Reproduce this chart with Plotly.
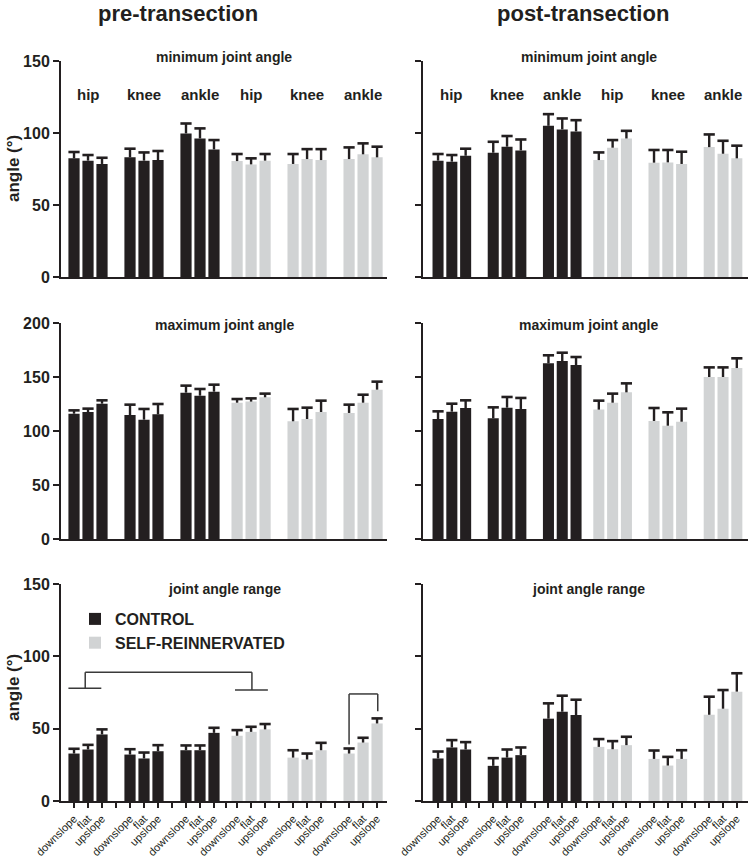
import plotly.graph_objects as go

# ---------------- data ----------------
joints = ["hip", "knee", "ankle"]
slopes = ["downslope", "flat", "upslope"]
groups = ["CONTROL", "SELF-REINNERVATED"]
panel_titles = ["minimum joint angle", "maximum joint angle", "joint angle range"]
column_titles = ["pre-transection", "post-transection"]

# each list: hip(down,flat,up), knee(down,flat,up), ankle(down,flat,up)
pre_min_control = [82.4, 80.8, 78.5, 83.1, 80.8, 81.2, 99.7, 96.2, 88.6]
pre_min_control_sem = [4.4, 3.9, 4.3, 6.0, 5.7, 6.3, 6.9, 7.0, 6.5]
pre_min_self = [80.5, 78.2, 80.8, 78.5, 81.9, 81.2, 81.9, 85.2, 83.1]
pre_min_self_sem = [4.9, 4.2, 4.6, 6.9, 6.9, 7.6, 8.1, 7.6, 7.4]

post_min_control = [80.8, 80.1, 84.2, 86.3, 90.5, 87.9, 105.0, 102.5, 101.1]
post_min_control_sem = [4.6, 4.6, 4.9, 7.6, 7.4, 7.6, 8.1, 7.6, 7.8]
post_min_self = [81.2, 89.8, 96.2, 79.4, 79.6, 78.5, 90.2, 85.6, 82.4]
post_min_self_sem = [5.3, 5.3, 5.3, 8.8, 8.6, 8.5, 8.8, 9.0, 8.8]

pre_max_control = [116.0, 117.6, 125.3, 114.8, 110.5, 115.4, 135.5, 132.7, 136.4]
pre_max_control_sem = [3.1, 3.1, 3.1, 9.6, 9.9, 9.6, 6.5, 6.2, 6.5]
pre_max_self = [126.2, 127.2, 131.2, 109.0, 111.1, 117.6, 116.7, 126.2, 138.3]
pre_max_self_sem = [3.4, 3.0, 3.4, 11.4, 10.5, 10.5, 7.7, 7.4, 7.4]

post_max_control = [111.1, 117.9, 121.3, 111.7, 121.6, 120.4, 162.7, 164.8, 161.1]
post_max_control_sem = [7.1, 7.4, 7.1, 10.2, 9.9, 10.2, 7.4, 7.7, 7.4]
post_max_self = [119.8, 126.2, 135.8, 109.3, 104.9, 108.6, 150.0, 150.0, 158.3]
post_max_self_sem = [8.3, 8.4, 8.3, 12.0, 12.4, 12.1, 8.9, 8.9, 9.0]

pre_range_control = [32.8, 35.6, 46.0, 32.1, 29.4, 34.4, 35.1, 35.1, 47.1]
pre_range_control_sem = [3.3, 3.2, 3.5, 3.7, 4.1, 4.2, 3.3, 3.3, 3.5]
pre_range_self = [45.1, 47.8, 49.5, 30.0, 28.7, 35.1, 32.8, 40.4, 53.6]
pre_range_self_sem = [3.9, 3.5, 3.7, 5.1, 4.1, 5.1, 3.5, 3.3, 3.5]

post_range_control = [29.4, 37.0, 35.6, 24.3, 30.0, 31.7, 56.9, 61.7, 59.4]
post_range_control_sem = [4.8, 5.1, 5.1, 5.3, 5.6, 5.3, 10.6, 11.1, 10.6]
post_range_self = [37.4, 35.8, 38.6, 29.1, 24.5, 29.1, 59.6, 63.8, 75.6]
post_range_self_sem = [5.4, 5.6, 5.8, 5.8, 6.0, 6.0, 12.5, 12.9, 12.7]

y_ticks_150 = [0, 50, 100, 150]
y_ticks_200 = [0, 50, 100, 150, 200]

# ---------------- layout constants ----------------
W, H = 750, 857
FONT = "Liberation Sans, Arial, Helvetica, sans-serif"
INK = "#231f20"
BLACK_BAR = "#231f20"
GREY_BAR = "#d1d3d4"
group_offsets = [0, 4, 8, 11.65, 15.65, 19.65]  # control hip/knee/ankle, self hip/knee/ankle


def xpos(group_idx):
    return [group_offsets[group_idx + j] + i for j in range(3) for i in range(3)]


x_control = xpos(0)
x_self = xpos(3)

# pixel domains
col_px = [(61, 387), (423, 748)]
row_px = [(61, 277), (323, 539), (584, 801)]
x_ranges = [(-0.93, 22.36), (-1.09, 22.46)]


def xdom(c):
    a, b = col_px[c]
    return [a / W, b / W]


def ydom(r):
    top, bot = row_px[r]
    return [(H - bot) / H, (H - top) / H]


panels = [
    # (row, col, control, control_sem, self, self_sem, yticks)
    (0, 0, pre_min_control, pre_min_control_sem, pre_min_self, pre_min_self_sem, y_ticks_150),
    (0, 1, post_min_control, post_min_control_sem, post_min_self, post_min_self_sem, y_ticks_150),
    (1, 0, pre_max_control, pre_max_control_sem, pre_max_self, pre_max_self_sem, y_ticks_200),
    (1, 1, post_max_control, post_max_control_sem, post_max_self, post_max_self_sem, y_ticks_200),
    (2, 0, pre_range_control, pre_range_control_sem, pre_range_self, pre_range_self_sem, y_ticks_150),
    (2, 1, post_range_control, post_range_control_sem, post_range_self, post_range_self_sem, y_ticks_150),
]

fig = go.Figure()
layout = {}
annotations = []
shapes = []

all_x = sorted(x_control + x_self)
gap_ticks = [3, 7, (10 + 11.65) / 2, 14.65, 18.65]
bottom_tickvals = all_x + gap_ticks
bottom_ticktext = [slopes[k % 3] for k in range(len(all_x))] + [""] * len(gap_ticks)

for idx, (r, c, ctl, ctl_sem, slf, slf_sem, yt) in enumerate(panels):
    n = idx + 1
    xa = "x" if n == 1 else f"x{n}"
    ya = "y" if n == 1 else f"y{n}"
    show_leg = (r == 2 and c == 0)
    for name, xs, vals, sem, col in [
        (groups[0], x_control, ctl, ctl_sem, BLACK_BAR),
        (groups[1], x_self, slf, slf_sem, GREY_BAR),
    ]:
        fig.add_trace(go.Bar(
            x=xs, y=vals, name=name, xaxis=xa, yaxis=ya,
            marker=dict(color=col, line=dict(width=0)),
            width=0.8, showlegend=show_leg,
            error_y=dict(type="data", symmetric=False, array=sem,
                         arrayminus=[0] * len(sem), color=INK,
                         thickness=2.4, width=0),
            hoverinfo="x+y",
        ))
        # one-sided error bar caps ("T" shape, as in the reference)
        fig.add_trace(go.Scatter(
            x=xs, y=[v + s for v, s in zip(vals, sem)], xaxis=xa, yaxis=ya,
            mode="markers", showlegend=False, hoverinfo="skip",
            marker=dict(symbol="line-ew", size=8, color=INK,
                        line=dict(color=INK, width=2.6)),
        ))
    xkey = "xaxis" if n == 1 else f"xaxis{n}"
    ykey = "yaxis" if n == 1 else f"yaxis{n}"
    is_bottom = (r == 2)
    layout[xkey] = dict(
        domain=xdom(c), range=list(x_ranges[c]), anchor=ya,
        showline=True, linecolor=INK, linewidth=2, showgrid=False, zeroline=False,
        tickmode="array",
        tickvals=bottom_tickvals if is_bottom else [],
        ticktext=bottom_ticktext if is_bottom else [],
        ticks="outside" if is_bottom else "", ticklen=5, tickwidth=2, tickcolor=INK,
        tickangle=-45, tickfont=dict(family=FONT, size=11, color=INK),
        ticklabeloverflow="allow",
        showticklabels=is_bottom, automargin=False, fixedrange=True,
    )
    layout[ykey] = dict(
        domain=ydom(r), range=[0, yt[-1]], anchor=xa,
        showline=True, linecolor=INK, linewidth=2, showgrid=False, zeroline=False,
        tickmode="array", tickvals=yt, ticktext=[str(v) for v in yt],
        ticks="outside", ticklen=6, tickwidth=2, tickcolor=INK,
        showticklabels=(c == 0),
        tickfont=dict(family=FONT, size=16, color=INK, weight="bold"),
        automargin=False, fixedrange=True,
    )
    # panel subtitle
    xd = xdom(c)
    sub_y_px = {0: 57, 1: 325, 2: 589}[r]
    annotations.append(dict(
        text=panel_titles[r], xref="paper", yref="paper",
        x=(xd[0] + xd[1]) / 2 + (0.004 if c == 1 else 0), y=(H - sub_y_px) / H,
        showarrow=False, xanchor="center", yanchor="middle",
        font=dict(family=FONT, size=14, color=INK, weight="bold"),
    ))
    if r == 0:
        for g in range(6):
            annotations.append(dict(
                text=joints[g % 3], xref=xa, yref="paper",
                x=group_offsets[g] + 1, y=(H - 94) / H,
                showarrow=False, xanchor="center", yanchor="middle",
                font=dict(family=FONT, size=15, color=INK, weight="bold"),
            ))

# column titles
for c, xc in enumerate([178, 583]):
    annotations.append(dict(
        text=column_titles[c], xref="paper", yref="paper",
        x=xc / W, y=(H - 14) / H, showarrow=False,
        xanchor="center", yanchor="middle",
        font=dict(family=FONT, size=22, color=INK, weight="bold"),
    ))

# y axis titles
for yc in [169, 688]:
    annotations.append(dict(
        text="angle (°)", xref="paper", yref="paper",
        x=13 / W, y=(H - yc) / H, showarrow=False, textangle=-90,
        xanchor="center", yanchor="middle",
        font=dict(family=FONT, size=17, color=INK, weight="bold"),
    ))

# significance brackets (bottom-left panel)
BR = dict(color="#3a3a3a", width=1.5)
g0, g3, g5 = group_offsets[0], group_offsets[3], group_offsets[5]
seg = [
    (g0 - 0.4, 78, g0 + 1.95, 78),
    (g0 + 0.8, 78, g0 + 0.8, 89),
    (g0 + 0.8, 89, g3 + 1.06, 89),
    (g3 + 1.06, 89, g3 + 1.06, 76.7),
    (g3 - 0.15, 76.7, g3 + 2.2, 76.7),
    (g5, 39, g5, 74),
    (g5, 74, g5 + 2.05, 74),
    (g5 + 2.05, 74, g5 + 2.05, 62),
]
for x0, y0, x1, y1 in seg:
    shapes.append(dict(type="line", xref="x5", yref="y5",
                       x0=x0, y0=y0, x1=x1, y1=y1, line=BR))

fig.update_layout(
    width=W, height=H,
    margin=dict(l=0, r=0, t=0, b=0),
    paper_bgcolor="white", plot_bgcolor="white",
    barmode="overlay",
    font=dict(family=FONT, color=INK),
    annotations=annotations, shapes=shapes,
    legend=dict(x=0.1, y=(H - 602) / H, xanchor="left", yanchor="top",
                font=dict(family=FONT, size=16, color=INK, weight="bold"),
                bgcolor="rgba(0,0,0,0)", itemwidth=30, tracegroupgap=0),
    **layout,
)

fig.write_html(
    "out.html",
    config={"displayModeBar": False, "staticPlot": True},
    post_script="document.body.style.margin='0';document.body.style.overflow='hidden';",
)
